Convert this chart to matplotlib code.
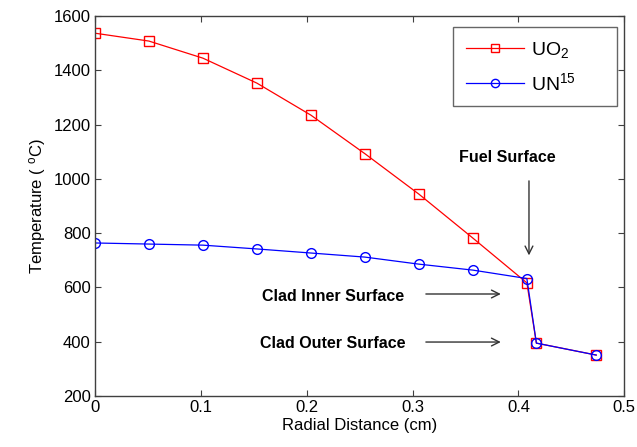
import matplotlib
matplotlib.use("Agg")
import matplotlib.pyplot as plt

plt.rcParams['font.family'] = ['Liberation Sans', 'DejaVu Sans']
plt.rcParams['mathtext.fontset'] = 'custom'
plt.rcParams['mathtext.rm'] = 'Liberation Sans'
plt.rcParams['mathtext.it'] = 'Liberation Sans:italic'

# Data
radial_cm = [0.0, 0.051, 0.102, 0.153, 0.204, 0.255, 0.306, 0.357, 0.408, 0.417, 0.4735]
temp_uo2 = [1537, 1508, 1445, 1353, 1235, 1093, 944, 782, 617, 395, 351]
temp_un15 = [764, 760, 756, 742, 727, 712, 686, 664, 633, 395, 351]
series_labels = [r'UO$_2$', r'UN$^{15}$']
x_ticks = [0, 0.1, 0.2, 0.3, 0.4, 0.5]
x_tick_labels = ['0', '0.1', '0.2', '0.3', '0.4', '0.5']
y_ticks = [200, 400, 600, 800, 1000, 1200, 1400, 1600]

fig = plt.figure(figsize=(6.37, 4.47), dpi=100)
ax = fig.add_axes([0.149, 0.114, 0.831, 0.850])

ax.plot(radial_cm, temp_uo2, color='red', lw=0.9, marker='s', ms=7,
        mfc='none', mec='red', mew=1.0, label=series_labels[0] + '      ')
ax.plot(radial_cm, temp_un15, color='blue', lw=0.9, marker='o', ms=7,
        mfc='none', mec='blue', mew=1.0, label=series_labels[1] + '      ')

ax.set_xlim(0, 0.5)
ax.set_ylim(200, 1600)
ax.set_xticks(x_ticks)
ax.set_xticklabels(x_tick_labels)
ax.set_yticks(y_ticks)
ax.tick_params(direction='in', length=4, width=0.8, top=True, right=True,
               labelsize=12, colors='#404040', labelcolor='black', pad=3)
for s in ax.spines.values():
    s.set_color('#404040')
    s.set_linewidth(1.0)

ax.set_xlabel('Radial Distance (cm)', fontsize=12, labelpad=2)
ax.set_ylabel(r'Temperature ( $^{\rm o}$C)', fontsize=12, labelpad=4)

leg = ax.legend(loc='upper left', bbox_to_anchor=(0.677, 0.971), fontsize=14,
                frameon=True, fancybox=False, edgecolor='#404040',
                borderaxespad=0.0, handlelength=3.0, borderpad=0.65,
                labelspacing=0.62, handletextpad=0.36, markerscale=0.85)
leg.get_frame().set_linewidth(1.0)

arrow_kw = dict(arrowstyle='->', color='#333333', lw=1.0, mutation_scale=14)
ax.annotate('', xy=(0.41, 708), xytext=(0.41, 1003), arrowprops=arrow_kw)
ax.text(0.390, 1078, 'Fuel Surface', ha='center', va='center',
        fontsize=11.5, fontweight='bold')
ax.annotate('', xy=(0.386, 576), xytext=(0.310, 576), arrowprops=arrow_kw)
ax.text(0.225, 566, 'Clad Inner Surface', ha='center', va='center',
        fontsize=11.5, fontweight='bold')
ax.annotate('', xy=(0.386, 399), xytext=(0.310, 399), arrowprops=arrow_kw)
ax.text(0.225, 395, 'Clad Outer Surface', ha='center', va='center',
        fontsize=11.5, fontweight='bold')

fig.savefig('out.png', dpi=100)
